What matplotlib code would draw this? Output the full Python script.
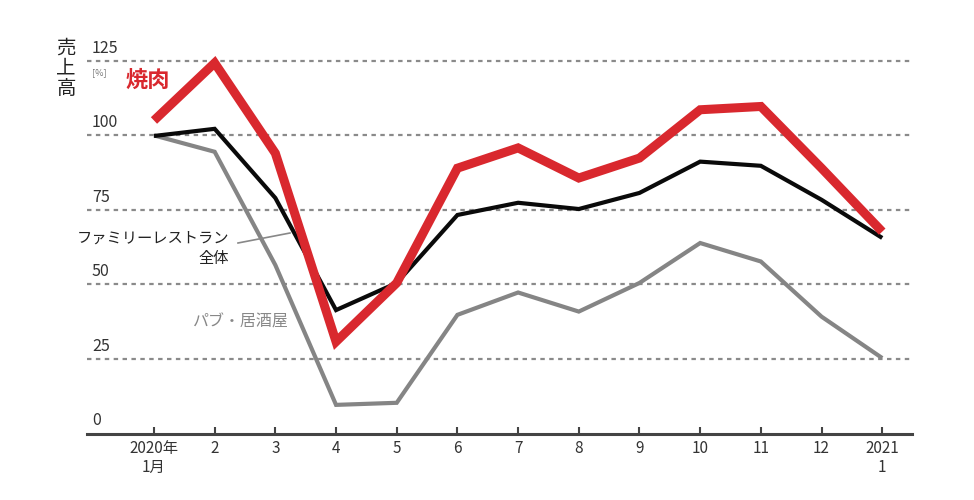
import matplotlib
matplotlib.use("Agg")
import matplotlib.pyplot as plt
import matplotlib.transforms as mtransforms

plt.rcParams['font.family'] = ['Noto Sans CJK JP', 'DejaVu Sans']

months = ["2020年\n1月", "2", "3", "4", "5", "6", "7", "8", "9", "10", "11", "12", "2021\n1"]
yakiniku = [105, 124.3, 94, 30.8, 50.5, 89, 95.8, 85.7, 92.4, 108.6, 109.7, 89, 67.7]
family_total = [99.8, 102.2, 79, 41.4, 50.5, 73.3, 77.4, 75.3, 80.7, 91.2, 89.8, 78.4, 65.6]
pub_izakaya = [100, 94.5, 56.5, 9.6, 10.3, 39.8, 47.3, 40.9, 50.5, 63.9, 57.7, 39.2, 25.3]
y_ticks = [0, 25, 50, 75, 100, 125]

fig = plt.figure(figsize=(9.74, 5.0), dpi=100)
ax = fig.add_axes([0.0893, 0.133, 0.847, 0.787])
x = list(range(len(months)))

ax.set_xlim(-1.104, 12.49)
ax.set_ylim(0, 132)

for v in y_ticks[1:]:
    ax.axhline(v, color='#8a8a8a', lw=1.6, ls=(0, (2.0, 2.0)), zorder=1)

ax.plot(x, pub_izakaya, color='#858585', lw=3.0, solid_joinstyle='miter', solid_capstyle='butt', zorder=3)
ax.plot(x, family_total, color='#0a0a0a', lw=3.0, solid_joinstyle='miter', solid_capstyle='butt', zorder=4)
ax.plot(x, yakiniku, color='#d9282e', lw=6.5, solid_joinstyle='miter', solid_capstyle='butt', zorder=5)

for s in ['top', 'right', 'left']:
    ax.spines[s].set_visible(False)
ax.spines['bottom'].set_color('#444444')
ax.spines['bottom'].set_linewidth(2.2)

ax.set_yticks([])
ax.set_xticks(x)
ax.set_xticklabels(months, fontsize=11, color='#333333', linespacing=1.15)
ax.tick_params(axis='x', direction='in', length=5, width=1.5, color='#444444', pad=5)

trans = mtransforms.blended_transform_factory(ax.transAxes, ax.transData)
for v in y_ticks:
    ax.text(0.006, v + 4.3, str(v), transform=trans, ha='left', va='center',
            fontsize=11.5, color='#333333')

fig.text(66/974, 1 - 68/500, "売\n上\n高", ha='center', va='center', fontsize=14,
         color='#222222', linespacing=0.95)
fig.text(92/974, 1 - 73/500, "[%]", ha='left', va='center', fontsize=6.5, color='#777777')
fig.text(126/974, 1 - 80/500, "焼肉", ha='left', va='center', fontsize=16,
         color='#d9282e', fontweight='bold')
fig.text(229/974, 1 - 238/500, "ファミリーレストラン", ha='right', va='center', fontsize=11,
         color='#222222')
fig.text(229/974, 1 - 259/500, "全体", ha='right', va='center', fontsize=11,
         color='#222222')
fig.text(193/974, 1 - 322/500, "パブ・居酒屋", ha='left', va='center', fontsize=11.5,
         color='#888888')
fig.add_artist(plt.Line2D([238/974, 290/974], [1 - 243/500, 1 - 233/500], color='#888888', lw=1.2))

fig.savefig("out.png", dpi=100, facecolor='white')
